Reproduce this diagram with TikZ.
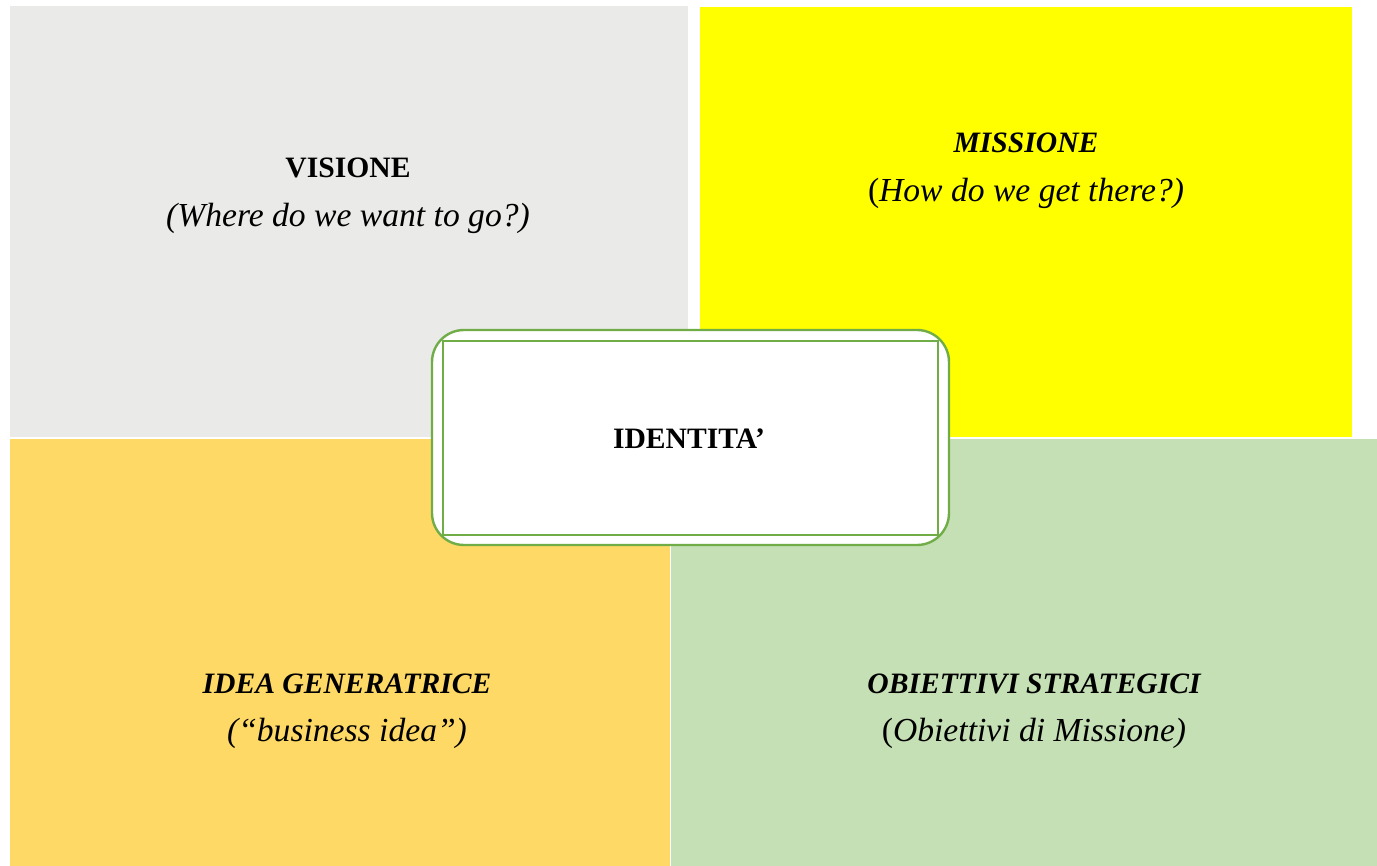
\documentclass[tikz,border=0pt]{standalone}
\usepackage{fontspec}
\setmainfont{Liberation Serif}
\usetikzlibrary{positioning}
\definecolor{visgray}{RGB}{234,234,232}
\definecolor{misyellow}{RGB}{255,255,0}
\definecolor{ideaorange}{RGB}{254,217,102}
\definecolor{obigreen}{RGB}{197,224,180}
\definecolor{idgreen}{RGB}{112,173,71}
\tikzset{
    quadtitle/.style = {anchor=base, text=black, font=\fontsize{14.8}{18}\selectfont\bfseries},
    quadtitlei/.style = {anchor=base, text=black, font=\fontsize{14.8}{18}\selectfont\bfseries\itshape},
    quadsub/.style = {anchor=base, text=black, font=\fontsize{16.8}{20}\selectfont\itshape},
    idbox/.style = {draw=idgreen, line width=1.2pt, fill=white, rounded corners=16pt},
    idinner/.style = {draw=idgreen, line width=1.1pt}
}
\begin{document}
\begin{tikzpicture}[x=0.5pt, y=-0.5pt]
  \useasboundingbox (0,0) rectangle (1377,866);
  % quadrants
  \fill[visgray] (10,6) rectangle (688,437);
  \fill[misyellow] (700,7) rectangle (1352,437);
  \fill[ideaorange] (10,439) rectangle (670,866);
  \fill[obigreen] (671,439) rectangle (1377,866);
  % texts
  \node[quadtitle] (vis) at (348,178) {VISIONE};
  \node[quadsub] (vissub) at (348,227) {(Where do we want to go?)};
  \node[quadtitlei] (mis) at (1026,153) {MISSIONE};
  \node[quadsub] (missub) at (1026,202) {{\upshape(}How do we get there?)};
  \node[quadtitlei] (idea) at (347,693) {IDEA GENERATRICE};
  \node[quadsub] (ideasub) at (347,741) {(“business idea”)};
  \node[quadtitlei] (obi) at (1034,693) {OBIETTIVI STRATEGICI};
  \node[quadsub] (obisub) at (1034,741) {{\upshape(}Obiettivi di Missione)};
  % centre
  \draw[idbox] (432,330) rectangle (949,545);
  \draw[idinner] (443,341) rectangle (938,535);
  \node[quadtitle] (id) at (689,448) {IDENTITA’};
\end{tikzpicture}
\end{document}
